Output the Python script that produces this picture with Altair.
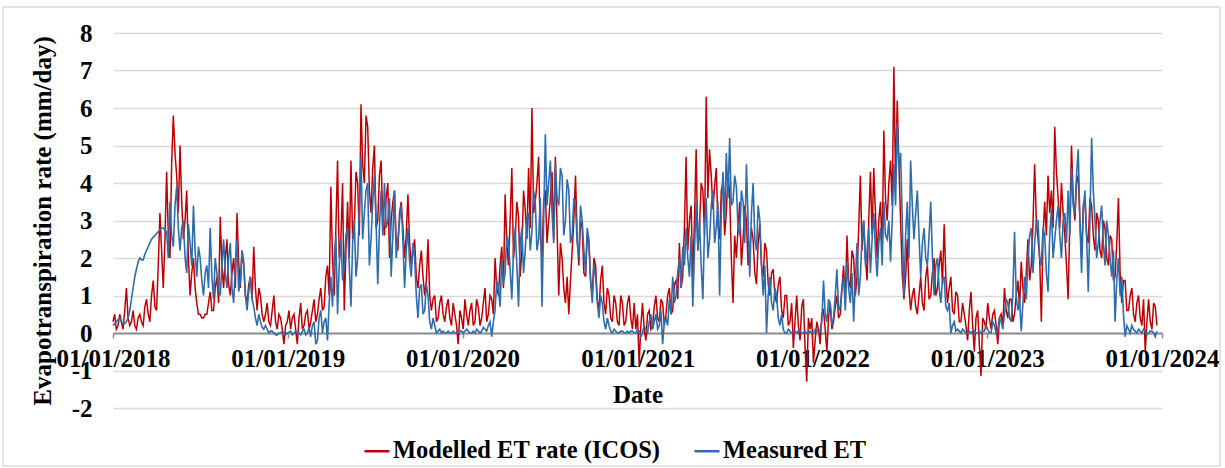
import altair as alt
import pandas as pd

# Evapotranspiration rates (mm/day), sampled twice a week.
# "*_YYYY" holds the start-of-week readings, "*_mid_YYYY" the mid-week ones.
modelled_2018 = [0.3, 0.1, 0.5, 0.1, 1.2, 0.2, 0.6, 0.1, 0.5, 0.2,
                 0.9, 0.3, 1.4, 0.6, 3.2, 1.2, 4.3, 2.0, 5.8, 4.2,
                 5.0, 2.5, 3.8, 1.0, 2.0, 0.8, 0.5, 0.4, 0.5, 1.1,
                 0.6, 1.5, 3.1, 1.2, 2.5, 1.0, 2.0, 3.2, 1.2, 1.8,
                 0.8, 1.5, 2.3, 0.6, 1.0, 0.3, 0.8, 0.2, 1.0, 0.1,
                 0.4, -0.3]
modelled_mid_2018 = [0.5, 0.2, 0.3, 0.6, 0.4, 0.3, 0.2, 0.4, 0.3, 0.7,
                     0.5, 1.0, 0.7, 1.8, 2.2, 2.5, 2.6, 4.5, 4.8, 3.2,
                     3.5, 3.0, 2.0, 1.6, 1.2, 0.5, 0.4, 0.5, 0.8, 0.6,
                     1.2, 0.8, 1.8, 2.0, 1.3, 1.6, 1.2, 1.9, 2.2, 1.0,
                     1.3, 0.9, 1.2, 1.2, 0.5, 0.5, 0.3, 0.6, 0.3, 0.5,
                     0.1, 0.2]
modelled_2019 = [0.3, 0.1, 0.5, -0.3, 0.8, 0.2, 0.6, 0.3, 0.9, 0.5,
                 1.2, 0.7, 1.8, 3.9, 1.0, 4.6, 2.5, 0.6, 3.5, 4.6,
                 2.8, 4.0, 6.1, 4.0, 5.5, 3.2, 5.0, 3.0, 4.6, 2.6,
                 4.0, 3.0, 3.8, 2.2, 3.5, 2.0, 3.7, 1.8, 2.5, 1.2,
                 2.2, 1.0, 2.5, 0.6, 1.0, 0.4, 1.0, 0.3, 0.9, 0.2,
                 0.5, -0.3]
modelled_mid_2019 = [0.6, 0.4, 0.1, 0.4, 0.1, 0.5, 0.1, 0.6, 0.3, 0.9,
                     0.6, 1.5, 1.0, 2.0, 2.8, 2.0, 4.0, 2.2, 2.0, 2.5,
                     4.3, 2.6, 4.5, 5.8, 3.8, 4.4, 2.8, 4.2, 3.0, 3.6,
                     2.0, 3.5, 2.4, 3.2, 2.8, 2.6, 2.4, 2.2, 1.5, 1.8,
                     1.5, 1.4, 1.0, 0.9, 0.3, 0.8, 0.5, 0.7, 0.4, 0.8,
                     0.2, 0.6]
modelled_2020 = [0.4, 0.9, 0.2, 0.8, 0.3, 0.7, 0.4, 1.2, 0.5, 0.9,
                 2.0, 1.0, 2.3, 3.7, 1.8, 4.4, 2.5, 3.1, 2.2, 3.3,
                 4.4, 6.0, 3.5, 4.7, 2.0, 3.8, 3.0, 4.3, 4.7, 1.0,
                 2.0, 0.8, 0.5, 2.2, 4.2, 1.8, 2.8, 1.5, 2.4, 1.0,
                 1.8, 0.6, 1.8, 0.5, 1.0, 0.3, 0.8, 0.2, 0.8, 0.3,
                 1.0, 0.1]
modelled_mid_2020 = [0.1, 0.5, 0.6, 0.2, 0.9, 0.2, 0.8, 0.3, 1.0, 0.5,
                     1.2, 1.8, 1.2, 2.4, 3.0, 2.0, 3.5, 1.5, 3.8, 2.5,
                     2.8, 3.2, 4.0, 2.6, 3.5, 2.4, 3.6, 2.5, 2.8, 2.4,
                     1.2, 1.5, 1.4, 3.0, 2.6, 3.0, 1.6, 2.6, 1.4, 2.0,
                     0.9, 1.4, 0.8, 1.2, 0.4, 1.0, 0.3, 1.0, 0.2, 0.8,
                     0.4, 0.8]
modelled_2021 = [0.1, -0.85, 0.8, -0.2, 0.6, 0.2, 1.0, 0.3, 0.8, 0.5,
                 1.2, 0.6, 1.4, 2.4, 1.5, 4.7, 3.0, 1.5, 4.9, 2.8,
                 3.8, 6.3, 4.9, 3.3, 4.4, 2.5, 4.0, 3.2, 3.7, 0.8,
                 2.0, 3.5, 2.5, 3.0, 2.2, 2.5, 1.3, 2.9, 1.5, 2.2,
                 1.0, 1.7, 0.8, 1.5, 0.4, 1.0, 0.3, -0.4, 1.0, -0.2,
                 0.9, -1.3]
modelled_mid_2021 = [0.5, 0.2, 0.1, 0.5, 0.1, 0.7, 0.4, 0.9, 0.2, 1.0,
                     0.5, 1.3, 0.9, 1.2, 2.8, 2.2, 3.4, 3.0, 2.2, 4.0,
                     2.6, 3.6, 4.2, 3.9, 2.9, 3.8, 2.6, 4.3, 2.0, 2.6,
                     2.8, 1.8, 3.4, 1.8, 2.8, 1.6, 2.4, 1.8, 2.4, 1.3,
                     1.6, 1.0, 1.3, 0.6, 1.0, 0.2, 0.8, 0.3, 0.2, 0.7,
                     -0.4, 0.4]
modelled_2022 = [0.1, -0.8, 0.3, -0.3, 0.6, -0.5, 0.8, 0.3, 1.0, 0.5,
                 1.8, 2.6, 1.2, 2.0, 1.5, 4.2, 3.0, 1.4, 4.3, 4.4,
                 2.0, 3.5, 5.4, 3.0, 4.6, 7.1, 6.2, 3.0, 0.9, 2.5,
                 0.6, 1.2, 0.5, 1.5, 0.6, 1.8, 1.0, 2.0, 1.2, 2.2,
                 2.9, 0.8, 1.5, 0.5, 1.0, 0.3, 0.5, -0.2, 1.1, -0.5,
                 0.6, -1.15]
modelled_mid_2022 = [0.4, -0.2, 0.1, 0.5, 0.1, 0.4, 0.1, 0.7, 0.4, 1.2,
                     0.8, 1.4, 2.2, 1.0, 2.8, 2.2, 2.0, 3.0, 2.6, 3.2,
                     3.0, 2.2, 3.6, 4.0, 3.4, 4.0, 4.5, 1.6, 1.5, 1.2,
                     1.0, 0.7, 1.0, 0.8, 1.5, 0.9, 1.6, 1.0, 1.8, 1.3,
                     1.5, 1.2, 0.6, 1.1, 0.3, 0.8, 0.2, 0.6, 0.2, 0.4,
                     -0.3, 0.4]
modelled_2023 = [0.3, 0.8, 0.1, 0.6, -0.3, 0.5, 1.2, 0.4, 0.9, 0.5,
                 1.4, 1.9, 0.8, 2.5, 1.8, 4.5, 2.5, 0.3, 3.5, 4.2,
                 3.8, 5.5, 3.6, 4.0, 2.6, 0.9, 5.0, 3.0, 4.2, 2.0,
                 3.6, 2.4, 3.4, 2.2, 3.0, 2.0, 2.8, 1.8, 2.5, 1.5,
                 3.6, 0.8, 1.4, 0.6, 1.2, 0.3, 1.0, 0.2, -0.5, 0.9,
                 0.1, 0.7]
modelled_mid_2023 = [0.1, 0.4, 0.5, 0.2, 0.4, 0.2, 0.6, 0.9, 0.3, 1.0,
                     0.7, 1.2, 1.6, 1.4, 2.9, 3.0, 2.0, 2.6, 2.6, 3.2,
                     2.8, 4.3, 2.8, 3.2, 1.8, 3.0, 3.6, 4.0, 3.0, 3.4,
                     2.6, 3.6, 2.6, 3.2, 2.2, 3.0, 2.0, 2.6, 1.4, 2.4,
                     1.6, 1.4, 0.6, 1.0, 0.5, 0.8, 0.4, 0.9, 0.3, 0.3,
                     0.8, 0.2]

measured_2018 = [0.2, 0.3, 0.4, 0.25, 0.3, 0.6, 1.2, 1.7, 2.0, 1.95,
                 2.2, 2.4, 2.55, 2.65, 2.75, 2.8, 2.7, 3.5, 2.3, 3.9,
                 2.2, 3.0, 1.6, 2.4, 3.4, 1.5, 2.0, 1.0, 1.8, 2.8,
                 0.9, 1.6, 1.0, 2.5, 1.2, 2.4, 0.8, 2.5, 1.4, 1.9,
                 0.6, 1.5, 0.7, 0.2, 0.3, 0.1, 0.1, 0.05, 0.0, -0.05,
                 0.0, 0.0]
measured_mid_2018 = [0.25, 0.35, 0.3, 0.25, 0.4, 0.9, 1.5, 1.9, 1.95, 2.1,
                     2.3, 2.5, 2.6, 2.7, 2.8, 2.75, 2.0, 2.6, 3.4, 2.8,
                     2.8, 2.0, 2.9, 1.8, 2.2, 2.3, 1.4, 1.6, 1.2, 1.5,
                     2.0, 1.1, 1.8, 1.6, 2.0, 1.2, 1.8, 1.1, 2.2, 1.0,
                     1.1, 0.9, 0.4, 0.5, 0.15, 0.2, 0.0, 0.05, -0.05, 0.0,
                     0.05, -0.05]
measured_2019 = [0.0, 0.05, 0.0, 0.0, -0.05, 0.1, 0.0, -0.1, 0.3, -0.2,
                 0.6, 0.3, -0.2, 1.5, 2.0, 0.5, 2.5, 1.8, 2.8, 0.7,
                 3.0, 2.0, 4.7, 3.2, 4.0, 2.5, 4.2, 1.3, 3.8, 4.0,
                 3.0, 1.5, 3.8, 2.5, 3.4, 1.2, 2.8, 1.5, 2.0, 0.4,
                 1.3, 0.6, 1.0, 0.1, 0.2, 0.05, 0.0, 0.0, 0.05, 0.0,
                 0.0, 0.0]
measured_mid_2019 = [0.02, -0.05, 0.05, 0.0, 0.05, -0.05, 0.15, 0.2, -0.3, 0.4,
                     0.0, 0.4, 0.8, 0.7, 2.6, 1.8, 1.4, 2.6, 1.8, 2.4,
                     1.5, 3.2, 2.5, 3.8, 1.8, 3.5, 3.0, 2.8, 2.6, 2.8,
                     3.6, 2.6, 2.0, 3.0, 2.5, 2.2, 1.9, 2.4, 1.0, 1.2,
                     0.5, 1.3, 0.3, 0.4, 0.0, 0.1, 0.05, 0.0, 0.0, 0.05,
                     0.0, 0.05]
measured_2020 = [0.05, 0.05, 0.05, 0.0, 0.0, 0.05, 0.05, 0.1, 0.2, -0.1,
                 0.6, 1.2, 2.0, 1.6, 2.4, 0.9, 2.8, 0.7, 2.8, 2.2,
                 3.2, 2.7, 3.5, 2.5, 0.7, 5.3, 4.0, 3.2, 4.5, 3.4,
                 4.2, 3.0, 3.8, 2.6, 3.4, 2.0, 3.0, 1.6, 2.5, 0.8,
                 1.5, 0.4, 0.8, 0.1, 0.2, 0.0, 0.05, 0.0, 0.05, 0.0,
                 0.0, 0.05]
measured_mid_2020 = [0.0, 0.1, 0.0, 0.05, 0.1, 0.0, 0.15, 0.05, 0.3, 0.3,
                     1.4, 0.7, 1.3, 2.6, 1.7, 2.2, 1.8, 2.4, 1.6, 3.0,
                     2.2, 3.8, 2.2, 3.6, 3.0, 3.4, 4.6, 2.4, 3.6, 4.4,
                     2.6, 4.1, 2.4, 3.6, 2.4, 3.4, 2.2, 2.8, 1.4, 1.8,
                     0.8, 1.0, 0.3, 0.4, 0.05, 0.1, 0.0, 0.05, 0.0, 0.05,
                     0.05, 0.0]
measured_2021 = [0.0, 0.05, 0.0, 0.1, 0.3, 0.1, 0.5, 0.2, -0.3, 0.4,
                 0.9, 1.5, 1.0, 2.0, 2.3, 2.8, 1.5, 0.7, 3.5, 3.0,
                 0.9, 3.6, 2.5, 3.8, 2.8, 1.0, 4.3, 4.8, 5.2, 3.5,
                 3.9, 2.6, 3.5, 4.5, 1.5, 4.0, 2.2, 3.0, 1.0, 0.0,
                 1.5, 0.6, 1.0, 0.2, 0.1, 0.0, 0.05, 0.0, 0.0, 0.05,
                 0.0, 0.0]
measured_mid_2021 = [0.1, -0.1, 0.2, 0.0, 0.5, 0.3, 0.1, 0.6, 0.3, 0.2,
                     0.5, 0.8, 1.6, 1.2, 1.8, 2.0, 2.6, 2.2, 2.2, 1.8,
                     2.8, 2.0, 3.4, 2.4, 3.5, 3.2, 3.0, 3.6, 3.4, 4.2,
                     2.8, 3.8, 2.4, 3.0, 3.2, 2.5, 3.4, 1.8, 1.8, 1.0,
                     0.8, 1.2, 0.4, 0.5, 0.0, 0.1, 0.0, 0.05, 0.05, 0.0,
                     0.05, 0.0]
measured_2022 = [0.05, 0.0, 0.1, 0.05, 1.4, 0.3, 0.8, 0.4, 1.7, 0.7,
                 1.5, 1.9, 0.8, 0.3, 2.4, 1.5, 3.0, 2.2, 1.6, 3.2,
                 1.5, 2.8, 3.5, 2.5, 1.9, 4.5, 5.6, 4.8, 1.0, 3.5,
                 4.6, 2.5, 3.8, 1.5, 2.8, 1.8, 3.5, 1.0, 2.0, 0.8,
                 1.5, 0.6, 0.0, 0.3, 0.1, 0.0, 0.05, 0.0, 0.0, 0.05,
                 0.0, 0.0]
measured_mid_2022 = [0.0, 0.1, 0.0, 0.3, 0.5, 0.9, 0.2, 1.0, 0.6, 1.2,
                     0.6, 1.2, 1.6, 1.4, 1.0, 2.6, 1.8, 2.8, 2.5, 2.2,
                     2.4, 1.8, 2.6, 3.0, 3.0, 3.4, 4.4, 3.0, 2.6, 2.0,
                     3.4, 3.2, 2.6, 2.4, 2.0, 2.6, 2.0, 1.8, 1.2, 1.4,
                     0.7, 0.8, 0.2, 0.05, 0.05, 0.1, 0.0, 0.05, 0.05, 0.0,
                     0.05, 0.05]
measured_2023 = [0.05, 0.1, 0.0, 0.2, 0.1, 0.3, 0.5, 0.8, 0.3, 2.7,
                 0.6, 0.05, 1.5, 2.0, 2.8, 2.4, 3.0, 1.8, 2.6, 1.1,
                 3.3, 2.5, 3.4, 2.0, 3.2, 3.8, 4.4, 3.2, 4.9, 1.6,
                 3.8, 1.1, 5.2, 3.0, 2.4, 3.4, 1.8, 2.6, 1.5, 0.3,
                 2.0, 1.5, -0.1, 0.1, 0.2, 0.05, 0.1, 0.0, 0.05, 0.0,
                 0.05, -0.1]
measured_mid_2023 = [0.2, 0.0, 0.3, 0.0, 0.4, 0.1, 0.9, 0.4, 1.0, 1.0,
                     0.9, 0.8, 0.9, 2.6, 1.6, 3.0, 2.0, 2.8, 1.6, 2.6,
                     2.0, 3.0, 2.6, 3.0, 2.4, 2.6, 3.4, 4.2, 3.0, 3.2,
                     2.6, 3.0, 3.8, 2.0, 3.0, 2.4, 3.0, 2.0, 2.2, 1.4,
                     1.0, 0.5, 0.2, 0.0, 0.1, 0.0, 0.05, 0.1, -0.05, 0.05,
                     0.0, 0.05]

SERIES = ["Modelled ET rate (ICOS)", "Measured ET"]
COLORS = ["#C00000", "#2E6DAD"]
YEARS = list(range(2018, 2025))
FONT = "Liberation Serif"
FONT_SIZE = 25


def interleave(pairs):
    out = []
    for week_vals, mid_vals in pairs:
        for a, b in zip(week_vals, mid_vals):
            out += [a, b]
    return out


modelled = interleave([
    (modelled_2018, modelled_mid_2018), (modelled_2019, modelled_mid_2019),
    (modelled_2020, modelled_mid_2020), (modelled_2021, modelled_mid_2021),
    (modelled_2022, modelled_mid_2022), (modelled_2023, modelled_mid_2023),
])
measured = interleave([
    (measured_2018, measured_mid_2018), (measured_2019, measured_mid_2019),
    (measured_2020, measured_mid_2020), (measured_2021, measured_mid_2021),
    (measured_2022, measured_mid_2022), (measured_2023, measured_mid_2023),
])
dates = pd.date_range("2018-01-01", periods=len(modelled), freq="84h")

df_mod = pd.DataFrame({"date": dates, "et": modelled, "series": SERIES[0]})
df_mea = pd.DataFrame({"date": dates, "et": measured, "series": SERIES[1]})

W, H = 1049, 375
ZERO_OFFSET = -75  # x axis sits on the zero line

x_enc = alt.X(
    "date:T",
    title="Date",
    scale=alt.Scale(
        domain=[alt.DateTime(year=YEARS[0], month=1, date=1),
                alt.DateTime(year=YEARS[-1], month=1, date=1)],
        nice=False,
    ),
    axis=alt.Axis(
        values=[alt.DateTime(year=y, month=1, date=1) for y in YEARS],
        format="%d/%m/%Y",
        grid=False,
        offset=ZERO_OFFSET,
        domainColor="#8c8c8c",
        domainWidth=2,
        tickColor="#8c8c8c",
        tickWidth=1.5,
        tickSize=5,
        labelPadding=8,
        titlePadding=11,
        labelFlush=False,
        labelOverlap=False,
    ),
)
y_enc = alt.Y(
    "et:Q",
    title="Evapotranspiration rate (mm/day)",
    scale=alt.Scale(domain=[-2, 8], nice=False, zero=False),
    axis=alt.Axis(
        values=list(range(-2, 9)),
        # plain hyphen for negative labels
        labelExpr="datum.value < 0 ? '-' + abs(datum.value) : '' + datum.value",
        grid=True,
        gridColor="#d9d9d9",
        gridWidth=1.5,
        domain=False,
        ticks=False,
        labelPadding=21,
        titlePadding=16,
    ),
)
color_enc = alt.Color(
    "series:N",
    scale=alt.Scale(domain=SERIES, range=COLORS),
    legend=alt.Legend(
        title=None,
        orient="none",
        legendX=250,
        legendY=404,
        direction="horizontal",
        symbolType="stroke",
        symbolSize=625,
        symbolStrokeWidth=2.5,
        labelFont=FONT,
        labelFontSize=24.5,
        labelFontWeight="bold",
        labelColor="black",
        labelLimit=0,
        labelOffset=2,
        columnPadding=28,
    ),
)

frame = alt.Chart(pd.DataFrame({"k": [0]})).mark_rect(
    fill=None, stroke="#d9d9d9", strokeWidth=1.5
).encode(
    x=alt.value(-110), x2=alt.value(1107),
    y=alt.value(-26), y2=alt.value(433),
)

line_mod = alt.Chart(df_mod).mark_line(strokeWidth=1.5).encode(
    x=x_enc, y=y_enc, color=color_enc
)
line_mea = alt.Chart(df_mea).mark_line(strokeWidth=1.6).encode(
    x=x_enc, y=y_enc, color=color_enc
)

chart = (
    alt.layer(frame, line_mod, line_mea)
    .properties(
        width=W,
        height=H,
        autosize=alt.AutoSizeParams(type="none"),
        padding={"left": 113, "top": 33, "right": 63, "bottom": 60},
        background="white",
    )
    .configure_view(stroke=None)
    .configure_axis(
        labelFont=FONT,
        titleFont=FONT,
        labelFontSize=FONT_SIZE,
        titleFontSize=FONT_SIZE,
        labelFontWeight="bold",
        titleFontWeight="bold",
        labelColor="black",
        titleColor="black",
    )
)

chart.save("out.html", embed_options={"renderer": "svg", "actions": False})
